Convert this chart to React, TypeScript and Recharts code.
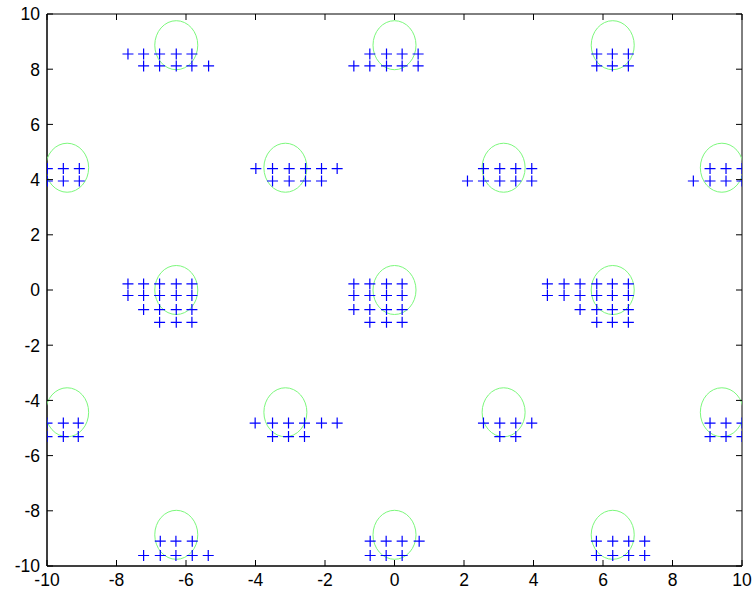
import { ScatterChart, Scatter, XAxis, YAxis, ReferenceArea } from "recharts";

// tick values, shared by both axes
const ticks = [-10, -8, -6, -4, -2, 0, 2, 4, 6, 8, 10];

// blue '+' markers, one row per y level
const rowY = [8.55, 8.12, 4.4, 3.95, 0.22, -0.2, -0.71, -1.17, -4.82, -5.31, -9.1, -9.62];
const rowX = [
  [-7.67, -7.22, -6.76, -6.28, -5.83, -0.71, -0.23, 0.22, 0.68, 5.82, 6.27, 6.73],
  [-7.22, -6.76, -6.28, -5.83, -5.35, -1.17, -0.71, -0.23, 0.22, 0.68, 5.82, 6.27, 6.73],
  [-9.99, -9.53, -9.07, -3.99, -3.51, -3.03, -2.56, -2.1, -1.65, 2.56, 3.03, 3.49, 3.95, 9.08, 9.54, 10.0],
  [-9.99, -9.53, -9.07, -3.51, -3.03, -2.56, -2.1, 2.1, 2.56, 3.03, 3.49, 3.95, 8.6, 9.08, 9.54, 10.0],
  [-7.67, -7.22, -6.76, -6.28, -5.83, -1.17, -0.71, -0.23, 0.22, 4.4, 4.88, 5.34, 5.82, 6.27, 6.73],
  [-7.67, -7.22, -6.76, -6.28, -5.83, -1.17, -0.71, -0.23, 0.22, 4.4, 4.88, 5.34, 5.82, 6.27, 6.73],
  [-7.22, -6.76, -6.28, -5.83, -1.17, -0.71, -0.23, 0.22, 5.34, 5.82, 6.27, 6.73],
  [-6.76, -6.28, -5.83, -0.71, -0.23, 0.22, 5.82, 6.27, 6.73],
  [-10.0, -9.53, -9.1, -4.01, -3.51, -3.05, -2.59, -2.1, -1.65, 2.56, 3.03, 3.49, 3.95, 9.08, 9.54, 10.0],
  [-10.0, -9.53, -9.1, -3.51, -3.05, -2.59, 3.03, 3.49, 9.08, 9.54, 10.0],
  [-6.74, -6.29, -5.82, -0.7, -0.24, 0.22, 0.71, 5.81, 6.28, 6.74, 7.2],
  [-7.22, -6.74, -6.29, -5.82, -5.36, -0.7, -0.24, 0.22, 5.81, 6.28, 6.74, 7.2],
];

// green circle centres
const circleX = [-6.28, 0, 6.28, -9.42, -3.14, 3.14, 9.42, -6.28, 0, 6.28, -9.42, -3.14, 3.14, 9.42, -6.28, 0, 6.28];
const circleY = [8.87, 8.87, 8.87, 4.43, 4.43, 4.43, 4.43, 0, 0, 0, -4.43, -4.43, -4.43, -4.43, -8.87, -8.87, -8.87];

const plusData = rowY.flatMap((y, i) => rowX[i].map((x) => ({ x, y })));
const circleData = circleX.map((x, i) => ({ x, y: circleY[i] }));

const FONT = "'Liberation Sans', Arial, Helvetica, sans-serif";
const W = 753;
const H = 590;
const M = { top: 14, right: 11, bottom: 0, left: 0 };
const X_AXIS_H = 24;
const Y_AXIS_W = 47;
const PLOT_W = W - M.left - M.right - Y_AXIS_W;
const PLOT_H = H - M.top - M.bottom - X_AXIS_H;

// bottom tick also puts the mirrored inward tick on the top edge of the box
const BottomTick = ({ x, y, payload }: any) => (
  <g>
    <line x1={x} x2={x} y1={y} y2={y - 6} stroke="#000" />
    <line x1={x} x2={x} y1={y - PLOT_H} y2={y - PLOT_H + 6} stroke="#000" />
    <text x={x} y={y + 20} textAnchor="middle" fontSize={17.5} fontFamily={FONT} fill="#000">
      {payload.value}
    </text>
  </g>
);

// same for the left axis / right edge
const LeftTick = ({ x, y, payload }: any) => (
  <g>
    <line x1={x} x2={x + 6} y1={y} y2={y} stroke="#000" />
    <line x1={x + PLOT_W} x2={x + PLOT_W - 6} y1={y} y2={y} stroke="#000" />
    <text x={x - 7} y={y} dy="0.36em" textAnchor="end" fontSize={17.5} fontFamily={FONT} fill="#000">
      {payload.value}
    </text>
  </g>
);

const PlusShape = ({ cx, cy }: any) => (
  <path d={`M${cx - 5.5},${cy}h11M${cx},${cy - 5.5}v11`} stroke="#0000ff" strokeWidth={1.2} fill="none" />
);

const CircleShape = ({ cx, cy }: any) => (
  <ellipse cx={cx} cy={cy} rx={21.5} ry={24.5} stroke="#7cf87c" strokeWidth={1} fill="none" />
);

export default function App() {
  return (
    <div style={{ position: "absolute", left: 0, top: 0, background: "#fff" }}>
      <ScatterChart width={W} height={H} margin={M}>
        <XAxis type="number" dataKey="x" domain={[-10, 10]} ticks={ticks} allowDataOverflow
          height={X_AXIS_H} tickSize={0} tickMargin={0} tick={<BottomTick />} stroke="#000" interval={0} />
        <YAxis type="number" dataKey="y" domain={[-10, 10]} ticks={ticks} allowDataOverflow
          width={Y_AXIS_W} tickSize={0} tickMargin={0} tick={<LeftTick />} stroke="#000" interval={0} />
        <ReferenceArea x1={-10} x2={10} y1={-10} y2={10} fill="none" fillOpacity={0} stroke="#000" strokeOpacity={1} ifOverflow="visible" />
        <Scatter data={circleData} shape={<CircleShape />} isAnimationActive={false} />
        <Scatter data={plusData} shape={<PlusShape />} isAnimationActive={false} />
      </ScatterChart>
    </div>
  );
}
